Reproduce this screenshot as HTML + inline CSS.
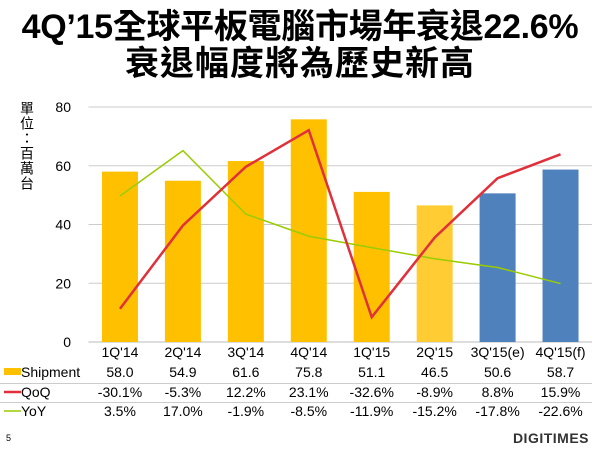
<!DOCTYPE html>
<html><head><meta charset="utf-8">
<style>
body{margin:0;width:600px;height:450px;background:#fff;overflow:hidden;font-family:"Liberation Sans","Noto Sans CJK TC",sans-serif;}
.t{position:absolute;left:0;width:600px;text-align:center;font-weight:bold;font-size:34px;line-height:36px;color:#000;white-space:nowrap;}
</style></head>
<body>
<div class="t" style="top:9px;letter-spacing:-0.3px">4Q’15全球平板電腦市場年衰退22.6%</div>
<div class="t" style="top:46px;letter-spacing:1px">衰退幅度將為歷史新高</div>
<svg id="c" width="600" height="450" style="position:absolute;left:0;top:0"></svg>
<script>
const categories=["1Q'14","2Q'14","3Q'14","4Q'14","1Q'15","2Q'15","3Q'15(e)","4Q'15(f)"];
const shipment=[58.0,54.9,61.6,75.8,51.1,46.5,50.6,58.7];
const qoq=[-30.1,-5.3,12.2,23.1,-32.6,-8.9,8.8,15.9];
const yoy=[3.5,17.0,-1.9,-8.5,-11.9,-15.2,-17.8,-22.6];
const barColors=["#FFC000","#FFC000","#FFC000","#FFC000","#FFC000","#FFCC33","#4F81BD","#4F81BD"];
const yTicks=[0,20,40,60,80];
const NS="http://www.w3.org/2000/svg";
const svg=document.getElementById('c');
const x0=88.5,x1=592,y0=342,y1=107;
const bw=(x1-x0)/categories.length;
function xc(i){return x0+bw*(i+0.5);}
function yL(v){return y0-(v/80)*(y0-y1);}
function yR(v){return y0-((v+40)/70)*(y0-y1);}
function mk(tag,a,txt){const e=document.createElementNS(NS,tag);for(const k in a)e.setAttribute(k,a[k]);if(txt!==undefined)e.textContent=txt;svg.appendChild(e);return e;}
yTicks.forEach(t=>{
 const g=mk('line',{x1:x0,x2:x1,y1:yL(t),y2:yL(t),stroke:t===0?'#bbb':'#ccc','stroke-width':1});
 
 
 const l=mk('text',{x:71,y:yL(t)+5,'text-anchor':'end','font-size':14,fill:'#000'},String(t));
 
 
});
const yl=mk('text',{x:27,y:101,'font-size':14,fill:'#000','writing-mode':'tb','glyph-orientation-vertical':0,'letter-spacing':1},'單位：百萬台');


shipment.forEach((v,i)=>{
 const b=mk('rect',{x:xc(i)-18,y:yL(v),width:36,height:y0-yL(v),fill:barColors[i]});
 
 
});
const ly=mk('polyline',{points:yoy.map((v,i)=>xc(i)+','+yR(v)).join(' '),fill:'none',stroke:'#99CC00','stroke-width':1.5});


const lq=mk('polyline',{points:qoq.map((v,i)=>xc(i)+','+yR(v)).join(' '),fill:'none',stroke:'#E0303A','stroke-width':2.5});


const rows=[{y:377,vals:shipment.map(v=>v.toFixed(1))},{y:397,vals:qoq.map(v=>v.toFixed(1)+'%')},{y:416,vals:yoy.map(v=>v.toFixed(1)+'%')}];
categories.forEach((c,i)=>{
 const t=mk('text',{x:xc(i),y:357,'text-anchor':'middle','font-size':14,fill:'#000'},c);
 
 
});
[383.5,402.5].forEach(y=>{
 const s=mk('line',{x1:0,x2:x1,y1:y,y2:y,stroke:'#ccc','stroke-width':1});
 
 
});
rows.forEach(r=>r.vals.forEach((v,i)=>{
 const t=mk('text',{x:xc(i),y:r.y,'text-anchor':'middle','font-size':14,fill:'#000'},v);
 
 
}));
const k1=mk('rect',{x:4,y:368,width:17,height:7,fill:'#FFC000'});


const k2=mk('line',{x1:4,x2:21,y1:392,y2:392,stroke:'#E0303A','stroke-width':2.5});


const k3=mk('line',{x1:4,x2:21,y1:411,y2:411,stroke:'#99CC00','stroke-width':1.5});


[['Shipment',377],['QoQ',397],['YoY',416]].forEach(([n,y])=>{
 const t=mk('text',{x:21,y:y,'font-size':14,fill:'#000'},n);
 
 
});
const pn=mk('text',{x:6,y:441,'font-size':9,fill:'#000'},'5');


const lg=mk('text',{x:589,y:443,'text-anchor':'end','font-size':14,'font-weight':'bold',fill:'#333','letter-spacing':0.5},'DIGITIMES');


</script>
</body></html>
